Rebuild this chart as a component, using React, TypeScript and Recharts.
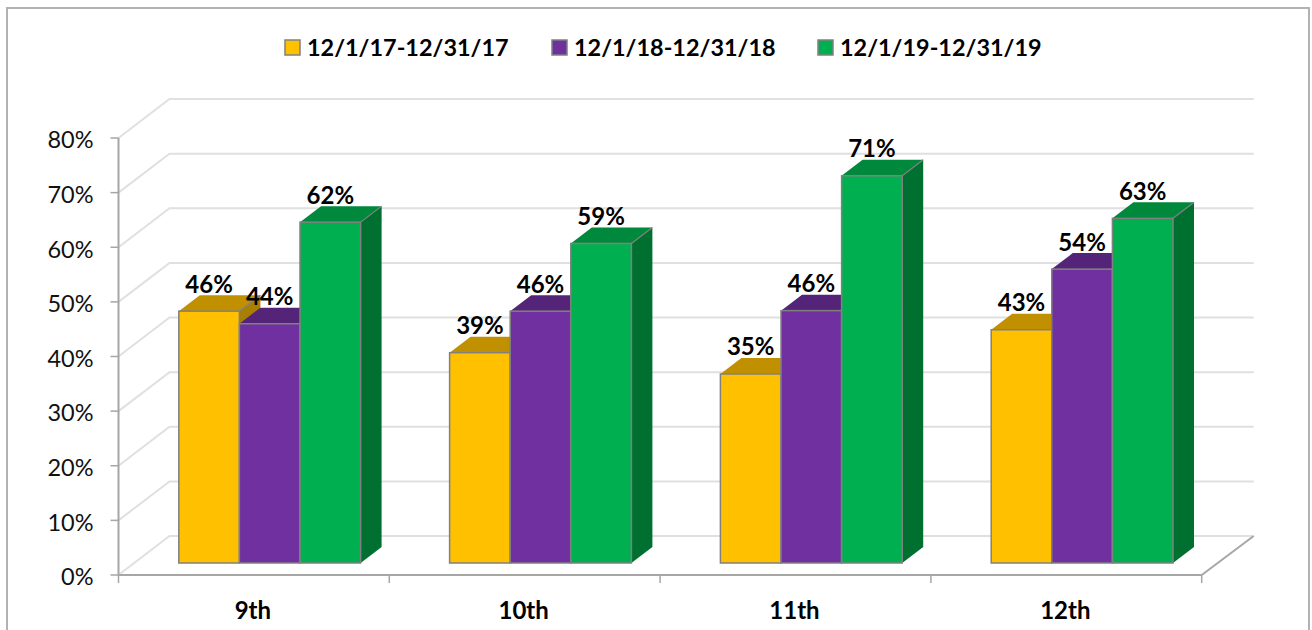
import { Bar, BarChart, CartesianGrid, LabelList, Legend, XAxis, YAxis } from "recharts";

const categories = ["9th", "10th", "11th", "12th"];
const dec2017 = [46.1, 38.5, 34.6, 42.7];
const dec2018 = [43.8, 46.1, 46.2, 53.8];
const dec2019 = [62.4, 58.5, 70.9, 63.1];
const yTicks = [0, 10, 20, 30, 40, 50, 60, 70, 80];
const seriesNames = ["12/1/17-12/31/17", "12/1/18-12/31/18", "12/1/19-12/31/19"];

const table = categories.map((grade, i) => ({
  grade,
  a: dec2017[i],
  b: dec2018[i],
  c: dec2019[i],
}));

const FONT = "Lato, sans-serif";
const EDGE = "#808080";
const AXIS = "#a6a6a6";
const GRID = "#e0e0e0";
const PLOT_W = 1083.2;
const BAND = PLOT_W / categories.length;

// how far the bars sit off the axis plane, and how deep the boxes are
const SHIFT_X = 15.3;
const SHIFT_Y = -12;
const DEPTH_X = 21;
const DEPTH_Y = 16;
const WALL_X = 51;
const WALL_Y = 39;

function box3d(front: string, top: string, side: string) {
  return (props: any) => {
    const x = props.x + SHIFT_X;
    const y = props.y + SHIFT_Y;
    const w = props.width;
    const h = props.height;
    const r = x + w;
    const b = y + h;
    return (
      <g>
        <polygon points={`${x},${y} ${r},${y} ${r + DEPTH_X},${y - DEPTH_Y} ${x + DEPTH_X},${y - DEPTH_Y}`} fill={top} />
        <polygon points={`${r},${y} ${r + DEPTH_X},${y - DEPTH_Y} ${r + DEPTH_X},${b - DEPTH_Y} ${r},${b}`} fill={side} />
        <line x1={r} y1={y} x2={r + DEPTH_X} y2={y - DEPTH_Y} stroke={EDGE} strokeWidth={1.2} />
        <rect x={x} y={y} width={w} height={h} fill={front} stroke={EDGE} strokeWidth={1.5} />
      </g>
    );
  };
}

function wallLine(props: any) {
  const { x1, x2, y1, key } = props;
  const isFloor = Math.abs(y1 - 575) < 1;
  return (
    <g key={key}>
      <polyline
        points={`${x1},${y1} ${x1 + WALL_X},${y1 - WALL_Y} ${x2 + WALL_X + 1},${y1 - WALL_Y}`}
        fill="none"
        stroke={GRID}
        strokeWidth={2}
      />
      {isFloor && <line x1={x2} y1={y1} x2={x2 + WALL_X + 1} y2={y1 - WALL_Y} stroke={AXIS} strokeWidth={2} />}
    </g>
  );
}

function GradeTick(props: any) {
  const { x, y, payload, index } = props;
  const left = x - BAND / 2;
  return (
    <g>
      <line x1={left} y1={y} x2={left} y2={y + 8} stroke={AXIS} strokeWidth={1.5} />
      {index === categories.length - 1 && (
        <line x1={left + BAND} y1={y} x2={left + BAND} y2={y + 8} stroke={AXIS} strokeWidth={1.5} />
      )}
      <text x={x - 1} y={y + 44} textAnchor="middle" fontFamily={FONT} fontWeight={700} fontSize={24} fill="#000">
        {payload.value}
      </text>
    </g>
  );
}

function ValueLabel(props: any) {
  const { x, y, width, value } = props;
  return (
    <text
      x={x + SHIFT_X + width / 2}
      y={y + SHIFT_Y - 18.5}
      textAnchor="middle"
      fontFamily={FONT}
      fontWeight={700}
      fontSize={24}
      fill="#000"
    >
      {Math.round(value)}%
    </text>
  );
}

const legendX = [285, 552, 818];

function LegendRow() {
  return (
    <svg width={1312} height={40} style={{ display: "block" }}>
      {seriesNames.map((name, i) => (
        <g key={name}>
          <rect x={legendX[i]} y={11} width={15} height={15} fill={faces[i].front} stroke={EDGE} strokeWidth={1.5} />
          <text x={legendX[i] + 22} y={27} fontFamily={FONT} fontWeight={700} fontSize={23.4} fill="#000">
            {name}
          </text>
        </g>
      ))}
    </svg>
  );
}

const faces = [
  { key: "a", front: "#ffc000", top: "#c09000", side: "#a87f00" },
  { key: "b", front: "#7030a0", top: "#542478", side: "#4a2070" },
  { key: "c", front: "#00b050", top: "#00883c", side: "#007030" },
];

export default function App() {
  return (
    <div style={{ position: "absolute", left: 0, top: 0, width: 1312, height: 630, overflow: "hidden", background: "#fff" }}>
      <div
        style={{
          position: "absolute",
          left: 6,
          top: 7,
          width: 1304,
          height: 640,
          border: "2px solid #b2b2b2",
          boxSizing: "border-box",
        }}
      />
      <BarChart
        width={1312}
        height={630}
        data={table}
        margin={{ top: 98, right: 110.3, bottom: 0, left: 0 }}
        barSize={60.6}
        barGap={0}
      >
        <CartesianGrid vertical={false} horizontal={wallLine} />
        <XAxis
          dataKey="grade"
          height={55}
          interval={0}
          tickLine={false}
          tickSize={0}
          tickMargin={0}
          tick={GradeTick}
          axisLine={{ stroke: AXIS, strokeWidth: 2 }}
        />
        <YAxis
          width={118.5}
          domain={[0, 80]}
          ticks={yTicks}
          interval={0}
          tickFormatter={(v: number) => `${v}%`}
          tickSize={8}
          tickMargin={17}
          tickLine={{ stroke: AXIS, strokeWidth: 1.5 }}
          axisLine={{ stroke: AXIS, strokeWidth: 2 }}
          tick={{ fontFamily: FONT, fontSize: 23.5, fill: "#111", dy: 2 }}
        />
        <Legend verticalAlign="top" content={LegendRow} wrapperStyle={{ top: 29, left: 0, width: 1312, height: 40 }} />
        {faces.map((f, i) => (
          <Bar
            key={f.key}
            dataKey={f.key}
            name={seriesNames[i]}
            fill={f.front}
            isAnimationActive={false}
            shape={box3d(f.front, f.top, f.side)}
          >
            <LabelList dataKey={f.key} content={ValueLabel} />
          </Bar>
        ))}
      </BarChart>
    </div>
  );
}
